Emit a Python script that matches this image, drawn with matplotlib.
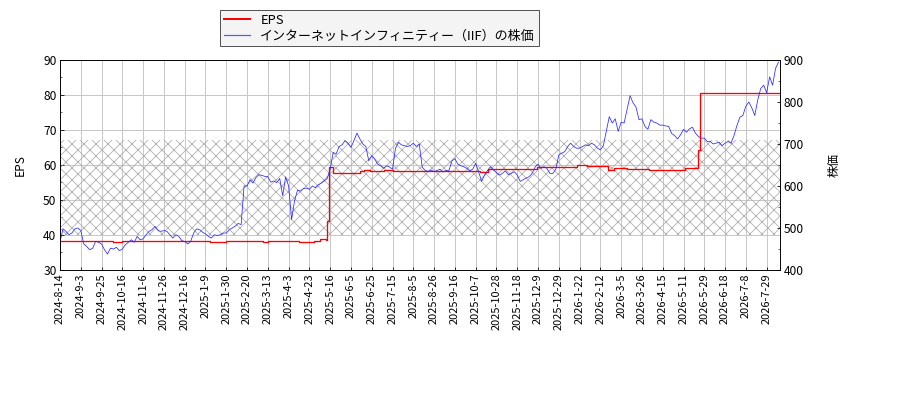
import matplotlib
matplotlib.use('Agg')
import matplotlib.pyplot as plt
from matplotlib.ticker import MultipleLocator, AutoMinorLocator
import numpy as np

plt.rcParams['font.family'] = ['Noto Sans CJK JP', 'DejaVu Sans']
plt.rcParams['hatch.linewidth'] = 0.8

# tick labels (one every 14 trading days)
tick_labels = ['2024-8-14', '2024-9-3', '2024-9-25', '2024-10-16', '2024-11-6', '2024-11-26',
               '2024-12-16', '2025-1-9', '2025-1-30', '2025-2-20', '2025-3-13', '2025-4-3',
               '2025-4-23', '2025-5-16', '2025-6-5', '2025-6-25', '2025-7-15', '2025-8-5',
               '2025-8-26', '2025-9-16', '2025-10-7', '2025-10-28', '2025-11-18', '2025-12-9',
               '2025-12-29', '2026-1-22', '2026-2-12', '2026-3-5', '2026-3-26', '2026-4-15',
               '2026-5-11', '2026-5-29', '2026-6-18', '2026-7-8', '2026-7-29']

# share price, one value every 2 trading days
price = [466, 498, 492, 484, 488, 498, 500,
         494, 462, 456, 448, 452, 468, 466,
         462, 448, 438, 452, 450, 454, 446,
         450, 460, 466, 472, 466, 480, 472,
         474, 484, 492, 496, 504, 494, 492,
         494, 492, 484, 476, 484, 480, 470,
         468, 462, 468, 488, 498, 496, 490,
         486, 480, 476, 484, 482, 484, 488,
         488, 496, 500, 504, 511, 508, 600,
         600, 615, 607, 620, 627, 625, 623,
         622, 609, 612, 608, 618, 577, 622,
         600, 520, 565, 590, 588, 594, 595,
         592, 600, 596, 603, 607, 612, 618,
         640, 680, 676, 694, 698, 708, 702,
         692, 708, 726, 712, 700, 694, 660,
         672, 664, 652, 648, 642, 648, 645,
         640, 690, 704, 698, 696, 694, 696,
         702, 694, 700, 645, 637, 635, 638,
         634, 637, 640, 633, 637, 637, 660,
         665, 652, 648, 646, 642, 636, 640,
         654, 634, 611, 626, 637, 646, 638,
         632, 626, 630, 636, 627, 630, 634,
         626, 611, 615, 619, 622, 630, 645,
         652, 642, 646, 642, 630, 630, 640,
         674, 678, 682, 694, 702, 694, 690,
         690, 694, 698, 696, 702, 698, 690,
         686, 696, 730, 765, 750, 760, 730,
         752, 750, 782, 815, 798, 788, 758,
         760, 742, 735, 758, 752, 750, 745,
         745, 743, 742, 725, 720, 712, 722,
         735, 728, 736, 740, 726, 718, 714,
         714, 706, 706, 700, 702, 704, 696,
         702, 706, 702, 720, 744, 764, 768,
         790, 800, 786, 768, 805, 832, 840,
         822, 860, 840, 880, 895]

# EPS: trading-day index where value changes, and value
eps_day = [0, 36, 42, 101, 112, 137, 140, 161, 171, 175, 179, 180, 181, 184, 198, 202,
           205, 209, 218, 224, 283, 288, 321, 348, 355, 369, 373, 382, 397, 421, 430, 431]
eps_val = [38.3, 38.0, 38.3, 38.0, 38.3, 38.0, 38.3, 37.9, 38.2, 38.8, 38.6, 44.0, 59.3,
           57.8, 57.6, 58.3, 58.6, 58.3, 58.7, 58.3, 58.0, 58.9, 59.4, 59.9, 59.7, 58.7,
           59.0, 58.9, 58.6, 59.0, 64.4, 80.5]

last_day = 485
price_day = np.arange(len(price)) * 2

fig = plt.figure(figsize=(900 / 72, 400 / 72), dpi=72)
ax = fig.add_axes([60 / 900, 130 / 400, 720 / 900, 210 / 400])
ax2 = ax.twinx()

ax.fill_between([0, last_day], 40, 67, facecolor='none', hatch='xx',
                edgecolor='#b0b0b0', linewidth=0)
l1, = ax.plot(eps_day + [last_day], eps_val + [eps_val[-1]], drawstyle='steps-post',
              color='red', lw=1.3, label='EPS')
l2, = ax2.plot(price_day, price, color='#2525ff', lw=0.75,
               label='インターネットインフィニティー（IIF）の株価')

ax.set_xlim(0, last_day)
ax.set_ylim(30, 90)
ax2.set_ylim(400, 900)
ax.yaxis.set_major_locator(MultipleLocator(10))
ax.yaxis.set_minor_locator(AutoMinorLocator(2))
ax2.yaxis.set_major_locator(MultipleLocator(100))
ax2.yaxis.set_minor_locator(AutoMinorLocator(2))
ax.set_xticks(np.arange(len(tick_labels)) * 14)
ax.set_xticklabels(tick_labels, rotation=90)
ax.grid(True, color='#c8c8c8', lw=1)
ax.set_axisbelow(True)
for a in (ax, ax2):
    a.tick_params(direction='in', which='both')
    a.tick_params(axis='y', labelsize=12)
ax.tick_params(axis='x', labelsize=11)
ax.set_ylabel('EPS', fontsize=12, labelpad=16)
ax2.set_ylabel('株価', fontsize=12, labelpad=24)

leg = fig.legend([l1, l2], [l1.get_label(), l2.get_label()], loc='upper left',
                 bbox_to_anchor=(220 / 900, 1 - 10 / 400), fancybox=False, edgecolor='#555555',
                 facecolor='#f4f4f4', framealpha=1, fontsize=13, borderaxespad=0,
                 labelspacing=0.2, borderpad=0.3)
leg.legend_handles[0].set_linewidth(2)
leg.legend_handles[1].set_linewidth(1.2)
leg.legend_handles[1].set_color('#5555ff')

fig.savefig('out.png', dpi=72)
